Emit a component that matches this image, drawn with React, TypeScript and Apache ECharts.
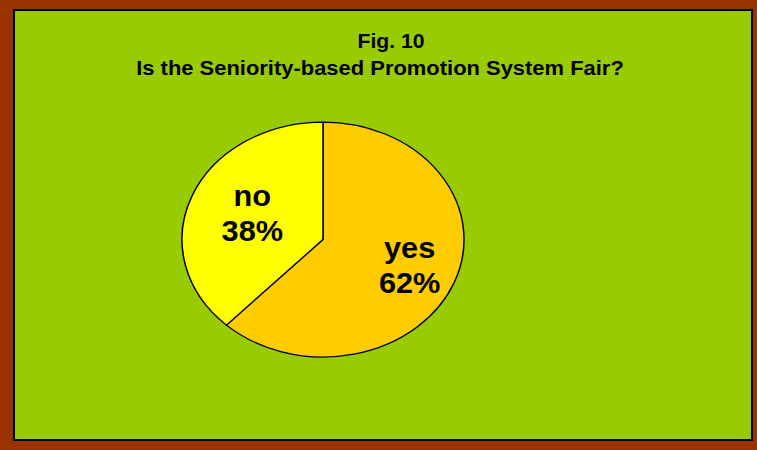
import React, { useEffect, useRef } from "react";
import * as echarts from "echarts";

const categories = ["yes", "no"];
const values = [62, 38];
const sliceColors = ["#FFCC00", "#FFFF00"];
const titleLines = ["Fig. 10", "Is the Seniority-based Promotion System Fair?"];

const FONT = "'Liberation Sans', Arial, sans-serif";

export default function App() {
  const ref = useRef<HTMLDivElement>(null);
  useEffect(() => {
    const chart = echarts.init(ref.current!, null, { renderer: "svg" });
    const total = values.reduce((a, b) => a + b, 0);
    const cx = 323;
    const cy = 239.5;
    const rx = 141;
    const ry = 117.5;
    const option: any = {
      animation: false,
      backgroundColor: "#993300",
      graphic: [
        {
          type: "rect",
          z: -10,
          shape: { x: 14, y: 10, width: 738, height: 430 },
          style: { fill: "#99CC00", stroke: "#000000", lineWidth: 2 },
        },
        {
          type: "text",
          x: 391,
          y: 41,
          scaleX: 1.06,
          style: {
            text: titleLines[0],
            fill: "#000000",
            font: `bold 20px ${FONT}`,
            align: "center",
            verticalAlign: "middle",
          },
        },
        {
          type: "text",
          x: 380,
          y: 68,
          scaleX: 1.045,
          style: {
            text: titleLines[1],
            fill: "#000000",
            font: `bold 21px ${FONT}`,
            align: "center",
            verticalAlign: "middle",
          },
        },
      ],
      series: [
        {
          type: "custom",
          coordinateSystem: "none",
          data: categories.map((c, i) => ({ name: c, value: values[i] })),
          renderItem: (params: any, api: any) => {
            const i = params.dataIndex;
            let before = 0;
            for (let k = 0; k < i; k++) before += values[k];
            const v = api.value(0);
            const start = -Math.PI / 2 + (before / total) * 2 * Math.PI;
            const end = start + (v / total) * 2 * Math.PI;
            const mid = (start + end) / 2;
            const lx = cx + 0.6 * rx * Math.cos(mid) + 8;
            const ly = cy + 0.6 * ry * Math.sin(mid);
            return {
              type: "group",
              children: [
                {
                  type: "sector",
                  x: cx,
                  y: cy,
                  scaleY: ry / rx,
                  shape: { cx: 0, cy: 0, r: rx, r0: 0, startAngle: start, endAngle: end, clockwise: true },
                  style: { fill: sliceColors[i], stroke: "#000000", lineWidth: 1.5, strokeNoScale: true },
                },
                {
                  type: "text",
                  x: lx,
                  y: ly,
                  scaleX: 1.06,
                  style: {
                    text: `${categories[i]}\n${Math.round((v / total) * 100)}%`,
                    fill: "#000000",
                    font: `bold 29px ${FONT}`,
                    lineHeight: 35,
                    align: "center",
                    verticalAlign: "middle",
                  },
                },
              ],
            };
          },
        },
      ],
    };
    chart.setOption(option);
    return () => chart.dispose();
  }, []);
  return (
    <div
      ref={ref}
      style={{ position: "fixed", left: 0, top: 0, width: 757, height: 450 }}
    />
  );
}
